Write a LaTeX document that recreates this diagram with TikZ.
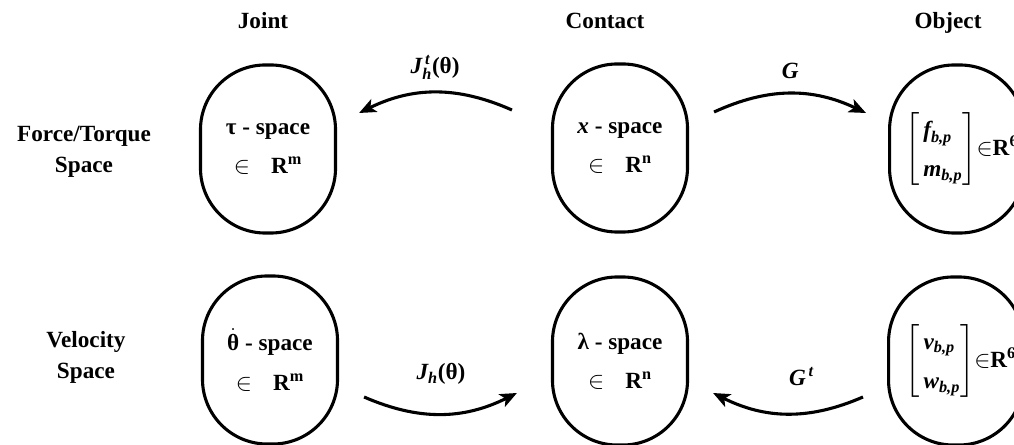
\documentclass[tikz,border=0pt]{standalone}
\usepackage{amsmath}
\usepackage{fontspec}
\setmainfont{Liberation Serif}
\usepackage{tikz}
\usetikzlibrary{arrows.meta,positioning}

\begin{document}
\begin{tikzpicture}[x=0.025cm, y=-0.025cm,
  every node/.style={font=\fontsize{16.5}{22}\selectfont\bfseries},
  space/.style={draw, line width=2.2pt, rounded corners=1.62cm, minimum width=3.375cm,
    minimum height=4.2cm, inner sep=0pt, align=center,
    font=\fontsize{16.5}{28}\selectfont\bfseries},
  map/.style={line width=2.2pt, -{Stealth[length=12pt,width=10pt,inset=3pt]}},
  maplabel/.style={inner sep=0pt},
  head/.style={anchor=base}]
\useasboundingbox (0,0) rectangle (1014,445);
\clip (0,0) rectangle (1014,445);

\node[head] (joint) at (263,29) {Joint};
\node[head] (contact) at (605,29) {Contact};
\node[head] (object) at (948,29) {Object};
\node[align=center] (forcerow) at (84,152) {Force/Torque\\Space};
\node[align=center] (velrow) at (86,357) {Velocity\\Space};

\node[space] (jt) at (268,149) {τ - space\\$\in$\hspace{0.9em}R\textsuperscript{m}};
\node[space] (ct) at (620,148) {\textit{x} - space\\$\in$\hspace{0.9em}R\textsuperscript{n}};
\node[space, anchor=west] (ot) at (888,149) {\hspace{0.4em}$\left[\begin{array}{@{\,}l@{}}
  \text{\itshape f}_{\text{\itshape b,p}}\\ \text{\itshape m}_{\text{\itshape b,p}}\end{array}\right]$$\in$R\textsuperscript{6}};
\node[space] (jb) at (270,360) {$\dot{\text{θ}}$ - space\\$\in$\hspace{0.9em}R\textsuperscript{m}};
\node[space] (cb) at (620,361) {λ - space\\$\in$\hspace{0.9em}R\textsuperscript{n}};
\node[space, anchor=west] (ob) at (887,361) {\hspace{0.4em}$\left[\begin{array}{@{\,}l@{}}
  \text{\itshape v}_{\text{\itshape b,p}}\\ \text{\itshape w}_{\text{\itshape b,p}}\end{array}\right]$$\in$R\textsuperscript{6}};

\draw[map] ([shift={(-39,-38)}]ct.west) to[bend right=25]
  node[maplabel, midway, above=0.28cm] (jhtlabel) {$\text{\itshape J}_{\text{\itshape h}}^{\,\text{\itshape t}}$(θ)}
  ([shift={(22,-36)}]jt.east);
\draw[map] ([shift={(25,-36)}]ct.east) to[bend left=25]
  node[maplabel, midway, above=0.33cm] (glabel) {\textit{G}}
  ([shift={(-22,-36)}]ot.west);
\draw[map] ([shift={(25,37)}]jb.east) to[bend right=25]
  node[maplabel, midway, above=0.7cm] (jhlabel) {$\text{\itshape J}_{\text{\itshape h}}$(θ)}
  ([shift={(-34,32)}]cb.west);
\draw[map] ([shift={(-24,36)}]ob.west) to[bend left=25]
  node[maplabel, midway, above=0.65cm, xshift=0.35cm] (gtlabel) {$\text{\itshape G}^{\,\text{\itshape t}}$}
  ([shift={(24,32)}]cb.east);
\end{tikzpicture}
\end{document}
